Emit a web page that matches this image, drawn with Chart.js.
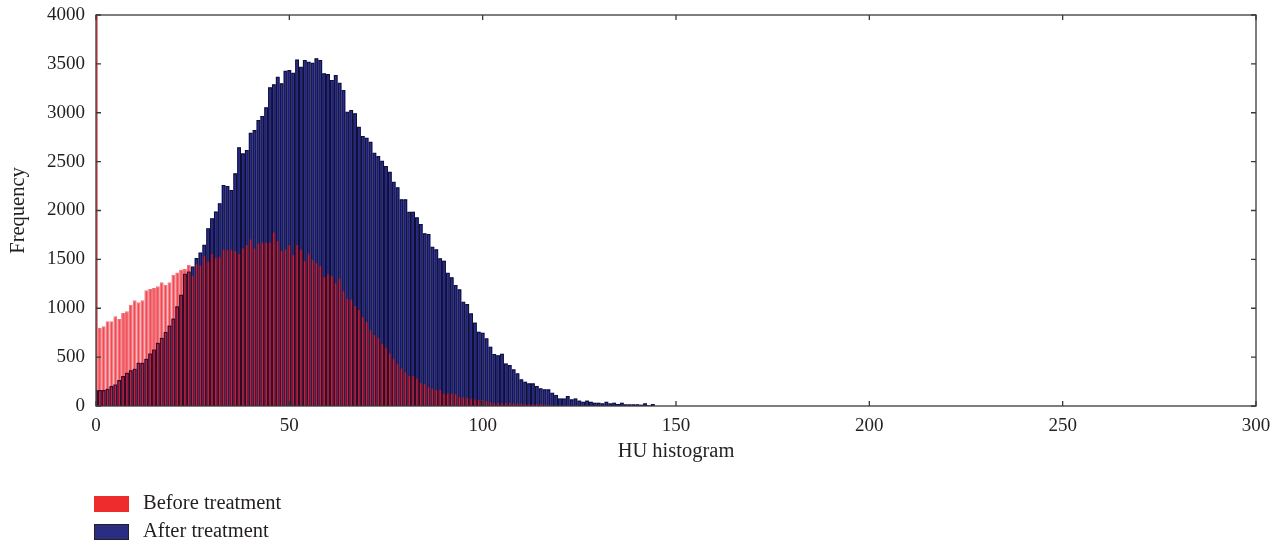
<!DOCTYPE html>
<html>
<head>
<meta charset="utf-8">
<script src="https://cdn.jsdelivr.net/npm/chart.js@4.4.1/dist/chart.umd.min.js"></script>
<style>
  html, body { margin: 0; padding: 0; background: #fff; }
  #wrap { position: relative; width: 1281px; height: 543px; }
  #c { position: absolute; left: 0; top: 0; }
  .leg { position: absolute; left: 94px; font-family: 'Liberation Serif', 'DejaVu Serif', serif; font-size: 20.5px; color: #231f20; }
  .sw { position: absolute; left: 0; width: 35px; height: 16px; box-sizing: border-box; }
  .lt { position: absolute; left: 49px; top: -5px; white-space: nowrap; }
</style>
</head>
<body>
<div id="wrap">
  <canvas id="c" width="1281" height="543"></canvas>
  <div class="leg" style="top:496px"><div class="sw" style="background:#ee2c2e"></div><div class="lt" id="l0"></div></div>
  <div class="leg" style="top:524px"><div class="sw" style="background:#2a2e82;border:1px solid #222"></div><div class="lt" id="l1"></div></div>
</div>
<script>
// ---- data ----
const seriesNames = ["Before treatment", "After treatment"];
const xTitle = "HU histogram";
const yTitle = "Frequency";
const xTicks = [0, 50, 100, 150, 200, 250, 300];
const yTicks = [0, 500, 1000, 1500, 2000, 2500, 3000, 3500, 4000];

// HU bins (bin width 1), starting at 0
const beforeTreatment = [
  5000, 800, 816, 867, 867, 918, 890, 952, 969, 1037,
  1081, 1061, 1081, 1183, 1197, 1207, 1224, 1265, 1241, 1265,
  1343, 1367, 1394, 1401, 1445, 1330, 1455, 1440, 1535, 1480,
  1560, 1520, 1530, 1600, 1595, 1603, 1586, 1555, 1613, 1647,
  1705, 1613, 1664, 1674, 1674, 1674, 1777, 1691, 1586, 1603,
  1647, 1545, 1647, 1603, 1487, 1562, 1494, 1466, 1432, 1323,
  1350, 1333, 1262, 1306, 1180, 1101, 1091, 1023, 982, 914,
  860, 777, 726, 702, 634, 600, 539, 488, 436, 385,
  351, 307, 307, 283, 239, 225, 198, 181, 170, 164,
  130, 130, 130, 123, 95, 89, 85, 78, 68, 61,
  61, 51, 44, 34, 34, 34, 30, 30, 28, 28,
  27, 25, 25, 24, 22, 20, 18, 15, 5, 3
];
const afterTreatment = [
  160, 163, 163, 177, 204, 221, 265, 306, 340, 367,
  381, 442, 442, 483, 537, 578, 646, 697, 758, 823,
  894, 1020, 1139, 1353, 1377, 1428, 1513, 1571, 1649, 1819,
  1921, 1989, 2074, 2261, 2251, 2210, 2380, 2646, 2585, 2619,
  2796, 2823, 2926, 2967, 3055, 3260, 3291, 3369, 3301, 3430,
  3437, 3410, 3546, 3471, 3540, 3523, 3512, 3557, 3540, 3403,
  3396, 3335, 3386, 3308, 3233, 3011, 3028, 2994, 2858, 2762,
  2745, 2704, 2592, 2557, 2510, 2455, 2397, 2295, 2237, 2114,
  2114, 1988, 1988, 1930, 1862, 1766, 1760, 1630, 1603, 1511,
  1487, 1364, 1316, 1238, 1194, 1067, 1043, 948, 853, 760,
  750, 692, 607, 532, 520, 535, 436, 419, 375, 334,
  273, 249, 232, 232, 205, 181, 171, 171, 136, 113,
  78, 78, 102, 68, 78, 55, 44, 55, 44, 34,
  34, 27, 44, 27, 34, 20, 34, 17, 17, 17,
  17, 14, 27, 7, 20
];

document.getElementById('l0').textContent = seriesNames[0];
document.getElementById('l1').textContent = seriesNames[1];

const toPoints = arr => arr.map((v, i) => ({ x: i, y: v }));

const serif = "'Liberation Serif', 'DejaVu Serif', serif";
const textColor = '#231f20';

const framePlugin = {
  id: 'frame',
  afterDatasetsDraw(chart) {
    const { ctx, chartArea: a, scales: { x, y } } = chart;
    ctx.save();
    ctx.strokeStyle = '#3a3a3a';
    ctx.lineWidth = 1.3;
    ctx.strokeRect(a.left, a.top, a.right - a.left, a.bottom - a.top);
    ctx.beginPath();
    const tl = 5;
    yTicks.forEach(v => {
      const py = y.getPixelForValue(v);
      ctx.moveTo(a.left, py); ctx.lineTo(a.left + tl, py);
      ctx.moveTo(a.right, py); ctx.lineTo(a.right - tl, py);
    });
    xTicks.forEach(v => {
      const px = x.getPixelForValue(v);
      ctx.moveTo(px, a.bottom); ctx.lineTo(px, a.bottom - tl);
      ctx.moveTo(px, a.top); ctx.lineTo(px, a.top + tl);
    });
    ctx.stroke();
    ctx.restore();
  }
};

const barCommon = {
  borderSkipped: 'start',
  grouped: false,
  barPercentage: 1,
  categoryPercentage: 1,
  inflateAmount: 0
};

new Chart(document.getElementById('c'), {
  type: 'bar',
  data: {
    datasets: [
      Object.assign({
        label: seriesNames[1] + ' edges',
        data: toPoints(afterTreatment),
        backgroundColor: 'rgba(0,0,0,0)',
        borderColor: 'rgba(5,5,20,0.75)',
        borderWidth: 1.1,
        order: 0
      }, barCommon),
      Object.assign({
        label: seriesNames[0],
        data: toPoints(beforeTreatment),
        backgroundColor: 'rgba(236,28,40,0.8)',
        borderColor: 'rgba(236,28,40,0.62)',
        borderWidth: 1.1,
        order: 1
      }, barCommon),
      Object.assign({
        label: seriesNames[1],
        data: toPoints(afterTreatment),
        backgroundColor: '#2b2e8e',
        borderColor: '#2b2e8e',
        borderWidth: 0,
        order: 2
      }, barCommon)
    ]
  },
  options: {
    responsive: false,
    animation: false,
    devicePixelRatio: 1,
    layout: { padding: { top: 15, right: 25, left: 0, bottom: 0 } },
    plugins: { legend: { display: false }, tooltip: { enabled: false } },
    scales: {
      x: {
        type: 'linear',
        min: 0, max: 300,
        offset: false,
        afterBuildTicks: s => { s.ticks = xTicks.map(v => ({ value: v })); },
        afterFit: s => { s.height = 137; s.paddingLeft = 0; s.paddingRight = 0; },
        grid: { display: false, drawTicks: false },
        border: { display: false },
        ticks: { padding: 9, color: textColor, font: { family: serif, size: 19 }, maxRotation: 0, callback: v => String(v) },
        title: { display: true, text: xTitle, color: textColor, font: { family: serif, size: 20.5 }, padding: { top: 4, bottom: 79 } }
      },
      y: {
        min: 0, max: 4000,
        afterBuildTicks: s => { s.ticks = yTicks.map(v => ({ value: v })); },
        afterFit: s => { s.width = 96; s.paddingTop = 0; s.paddingBottom = 0; },
        grid: { display: false, drawTicks: false },
        border: { display: false },
        ticks: { padding: 11, color: textColor, font: { family: serif, size: 19 }, callback: v => String(v) },
        title: { display: true, text: yTitle, color: textColor, font: { family: serif, size: 20.5 }, padding: { top: 6, bottom: 0 } }
      }
    }
  },
  plugins: [framePlugin]
});
</script>
</body>
</html>
